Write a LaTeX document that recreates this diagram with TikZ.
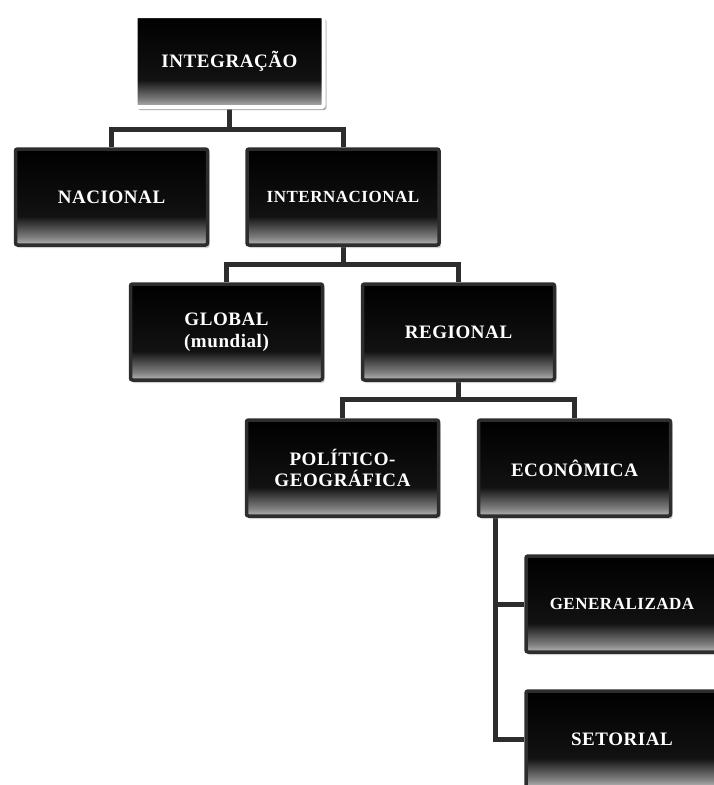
\documentclass[tikz,border=0pt]{standalone}
\usepackage{fontspec}
\setmainfont{Liberation Serif}[LetterSpace=3]
\usetikzlibrary{shadows,backgrounds}
\definecolor{framegray}{RGB}{45,45,45}
% dark box fading to grey at the foot
\pgfdeclareverticalshading{boxfade}{100bp}{color(0bp)=(black!28); color(25bp)=(black!28); color(29bp)=(black!50); color(40bp)=(black!93); color(75bp)=(black); color(100bp)=(black)}

\begin{document}
\begin{tikzpicture}[x=1pt, y=1pt,
		box/.style={rectangle, rounded corners=2pt, draw=framegray, line width=3.5pt, shading=boxfade,
			minimum width=192pt, minimum height=96pt, inner sep=0pt, align=center, text=white,
			font=\bfseries\fontsize{19}{21.5}\selectfont,
			drop shadow={opacity=0.35, shadow xshift=2pt, shadow yshift=-3pt}},
		narrow/.style={font=\bfseries\fontsize{17}{20}\selectfont},
		link/.style={draw=framegray, line width=5pt}]
		\useasboundingbox (0,0) rectangle (713,-785);
		
		\node[box, draw=white, line width=4pt, minimum width=188pt, minimum height=91pt,
			drop shadow={opacity=0.5, shadow xshift=3pt, shadow yshift=-3pt}] (integ) at (229.5,-61.5) {INTEGRAÇÃO};
		\node[box] (nac) at (111.5,-197) {NACIONAL};
		\node[box, narrow] (inter) at (343,-197) {INTERNACIONAL};
		\node[box] (glob) at (226.5,-332) {GLOBAL\\(mundial)};
		\node[box] (reg) at (458.5,-332) {REGIONAL};
		\node[box] (pol) at (342.5,-468) {POLÍTICO-\\GEOGRÁFICA};
		\node[box] (econ) at (574.5,-468) {ECONÔMICA};
		\node[box, narrow] (gen) at (622,-604) {GENERALIZADA};
		\node[box] (set) at (622,-739) {SETORIAL};
		
		\begin{scope}[on background layer]
			\draw[link] (integ.south) -- ++(0,-20) -| (nac.north);
			\draw[link] (integ.south) -- ++(0,-20) -| (inter.north);
			\draw[link] (inter.south) -- ++(0,-18) -| (glob.north);
			\draw[link] (inter.south) -- ++(0,-18) -| (reg.north);
			\draw[link] (reg.south) -- ++(0,-18) -| (pol.north);
			\draw[link] (reg.south) -- ++(0,-18) -| (econ.north);
			\draw[link] ([xshift=19pt]econ.south west) |- (gen.west);
			\draw[link] ([xshift=19pt]econ.south west) |- (set.west);
		\end{scope}
	\end{tikzpicture}
\end{document}
